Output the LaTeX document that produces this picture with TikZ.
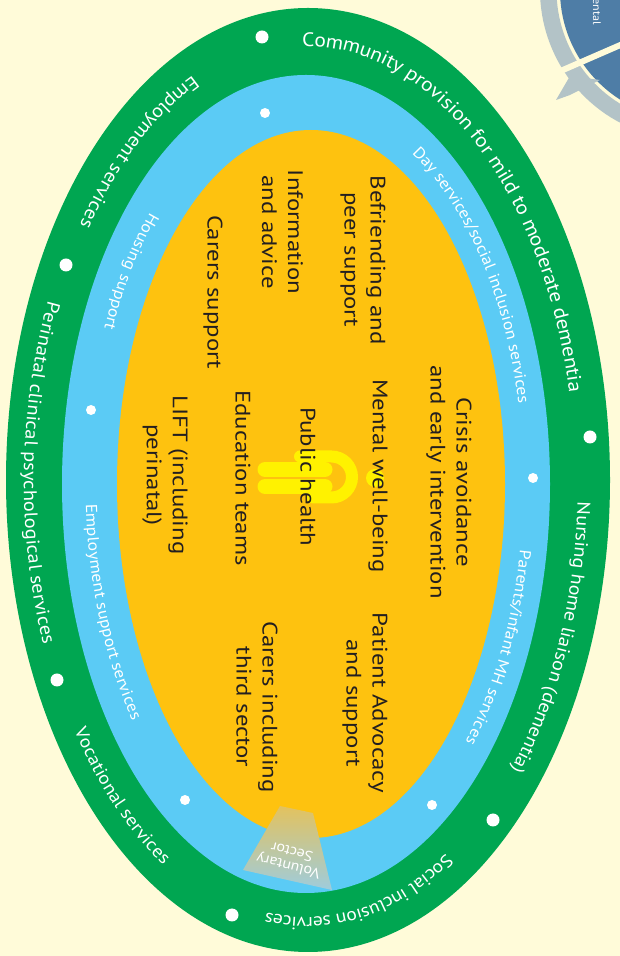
\documentclass[tikz,border=0pt]{standalone}
\usepackage{fontspec}
\setmainfont{PT Sans}
\newfontfamily\innerfont[FakeStretch=1.18]{PT Sans}
\newfontfamily\ringfont[FakeStretch=1.1]{PT Sans}
\usepackage{xcolor}
\usetikzlibrary{calc,decorations.text}
\definecolor{cream}{HTML}{FFFBD9}
\definecolor{ringgreen}{HTML}{00A651}
\definecolor{ringblue}{HTML}{5BCBF5}
\definecolor{coreorange}{HTML}{FEC20F}
\definecolor{logoyellow}{HTML}{FFF200}
\definecolor{inkgrey}{HTML}{231F20}
\definecolor{wedgetop}{HTML}{E3C25E}
\definecolor{wedgebot}{HTML}{9ECCDD}
\definecolor{cycleblue}{HTML}{4E7DA6}
\definecolor{cyclegrey}{HTML}{B3C3C7}
\tikzset{
	innertext/.style={text=inkgrey, rotate=-90, align=center,
			font=\innerfont\fontsize{21}{26}\selectfont, inner sep=0pt},
	whitedot/.style={fill=white, draw=none},
	greentext/.style 2 args={decorate, decoration={text along path, text align=left,
					raise=-5pt, text={|\ringfont\fontsize{#1}{#1}\selectfont\color{white}|#2}}},
	bluetext/.style={decorate, decoration={text along path, text align=left,
					raise=-4pt, text={|\ringfont\fontsize{16}{16}\selectfont\color{white}|#1}}}
}

\begin{document}
\begin{tikzpicture}[x=1pt, y=1pt]
	\useasboundingbox (0,0) rectangle (620,956);
	\fill[cream] (0,0) rectangle (620,956);
	\begin{scope}
		\clip (0,0) rectangle (620,956);
		\draw[cyclegrey, line width=16.5] (690,966) ++(175:141.75) arc[start angle=175, end angle=250, radius=141.75];
		\fill[cycleblue] (690,966) circle[radius=130];
		\draw[cream, line width=6] (556,883) -- (625,913);
		\fill[cyclegrey] (570,880) -- (600,876) -- (588,870) -- (570,861) -- (556,856) -- cycle;
		\node[rotate=-90, anchor=east, text=white, font=\ringfont\fontsize{11}{11}\selectfont, inner sep=0pt] (cyclelabel) at (597,931) {ental};
	\end{scope}
	\coordinate (gc) at (307,474);
	\coordinate (bc) at (308.5,472);
	\fill[ringgreen] (308,476) ellipse[x radius=302, y radius=472];
	\fill[ringblue] (306,472) ellipse[x radius=244, y radius=409];
	\fill[coreorange] (311,472) ellipse[x radius=194, y radius=354];
	\shade[top color=wedgetop, bottom color=wedgebot] (280,150) -- (313,143) -- (332,66) -- (243,86) -- cycle;
	\node[rotate=166, text=white, align=center, font=\ringfont\fontsize{14.5}{15}\selectfont, inner sep=0pt] (voluntary) at (290,97) {Voluntary\\Sector};
	% logo behind public health
	\fill[logoyellow] (375,478) circle[radius=9];
	\draw[logoyellow, line width=12, line cap=round] (300,499.5) -- (331.5,499.5) arc[start angle=90, end angle=-90, radius=20.5] -- (313,458.5);
	\draw[logoyellow, line width=15, line cap=round] (265,486.5) -- (325,486.5);
	\draw[logoyellow, line width=15, line cap=round] (265,469.5) -- (325,469.5);
	% ring texts
	\path[greentext={19.5}{Community provision for mild to moderate dementia}] ($(gc)+(91:273 and 440.5)$) arc[start angle=91, end angle=-30, x radius=273, y radius=440.5];
	\path[greentext={18.3}{Nursing home liaison (dementia)}] ($(gc)+(-2.6:276 and 442)$) arc[start angle=-2.6, end angle=-80, x radius=276, y radius=442];
	\path[greentext={17.8}{Social inclusion services}] ($(gc)+(-58.5:273 and 440.5)$) arc[start angle=-58.5, end angle=-150, x radius=273, y radius=440.5];
	\path[greentext={18.8}{Employment services}] ($(gc)+(114:273 and 440.5)$) arc[start angle=114, end angle=175, x radius=273, y radius=440.5];
	\path[greentext={18.5}{Perinatal clinical psychological services}] ($(gc)+(156:278 and 442)$) arc[start angle=156, end angle=240, x radius=278, y radius=442];
	\path[greentext={17.8}{Vocational services}] ($(gc)+(214:275 and 441)$) arc[start angle=214, end angle=280, x radius=275, y radius=441];
	\path[bluetext={Day services/social inclusion services}] ($(bc)+(61:219 and 381.5)$) arc[start angle=61, end angle=-20, x radius=219, y radius=381.5];
	\path[bluetext={Parents/infant MH services}] ($(bc)+(-10:219 and 381.5)$) arc[start angle=-10, end angle=-80, x radius=219, y radius=381.5];
	\path[bluetext={Housing support}] ($(bc)+(135:219 and 381.5)$) arc[start angle=135, end angle=200, x radius=219, y radius=381.5];
	\path[bluetext={Employment support services}] ($(bc)+(183:219 and 381.5)$) arc[start angle=183, end angle=260, x radius=219, y radius=381.5];
	% inner services
	\node[innertext] (crisis) at (449,474) {Crisis avoidance\\and early intervention};
	\node[innertext] (mental) at (378,480) {Mental well-being};
	\node[innertext] (public) at (308,479) {Public health};
	\node[innertext] (education) at (243,478) {Education teams};
	\node[innertext] (lift) at (165,481) {LIFT (including\\perinatal)};
	\node[innertext] (befriend) at (363,696) {Befriending and\\peer support};
	\node[innertext] (info) at (282.5,724) {Information\\and advice};
	\node[innertext] (carers) at (213,664) {Carers support};
	\node[innertext] (patient) at (365,253) {Patient Advocacy\\and support};
	\node[innertext] (carersthird) at (257,249) {Carers including\\third sector};
	% dots
	\foreach \p in {(262,919), (66,691), (57,276), (232,41), (493,136), (590,519)}
		\fill[whitedot] \p circle[radius=6.5];
	\foreach \p in {(265,843), (91,546), (185,156), (432,151), (533,478)}
		\fill[whitedot] \p circle[radius=5];
\end{tikzpicture}
\end{document}
